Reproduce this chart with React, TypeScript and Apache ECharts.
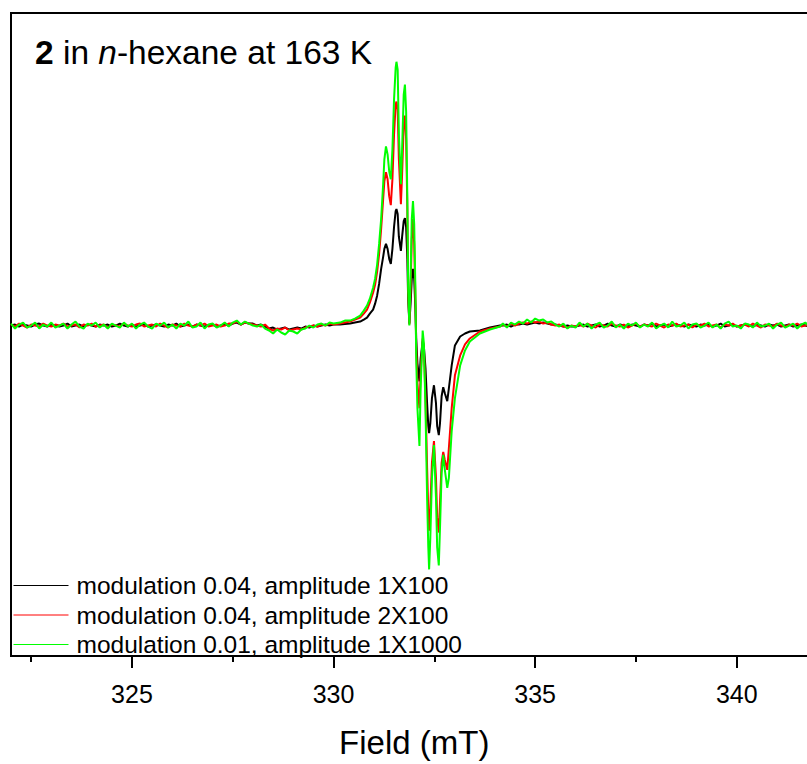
import React, { useEffect, useRef } from "react";
import * as echarts from "echarts";

// Field positions (mT)
const fieldLeft = [
  322.0, 322.1, 322.2, 322.3, 322.4, 322.5, 322.6, 322.7, 322.8, 322.9,
  323.0, 323.1, 323.2, 323.3, 323.4, 323.5, 323.6, 323.7, 323.8, 323.9,
  324.0, 324.1, 324.2, 324.3, 324.4, 324.5, 324.6, 324.7, 324.8, 324.9,
  325.0, 325.1, 325.2, 325.3, 325.4, 325.5, 325.6, 325.7, 325.8, 325.9,
  326.0, 326.1, 326.2, 326.3, 326.4, 326.5, 326.6, 326.7, 326.8, 326.9,
  327.0, 327.1, 327.2, 327.3, 327.4, 327.5, 327.6, 327.7, 327.8, 327.9,
  328.0, 328.1, 328.2, 328.3, 328.4, 328.5, 328.6, 328.7, 328.8, 328.9,
  329.0, 329.1, 329.2, 329.3, 329.4, 329.5, 329.6, 329.7, 329.8, 329.9,
  330.0,
];
const fieldCenter = [
  330.16, 330.28, 330.41, 330.53, 330.66, 330.75, 330.83, 330.9, 330.98, 331.03,
  331.08, 331.13, 331.18, 331.23, 331.26, 331.3, 331.34, 331.38, 331.42, 331.46,
  331.5, 331.54, 331.56, 331.59, 331.62, 331.67, 331.7, 331.74, 331.77, 331.8,
  331.83, 331.85, 331.88, 331.91, 331.94, 331.97, 332.0, 332.03, 332.05, 332.08,
  332.13, 332.16, 332.21, 332.24, 332.28, 332.32, 332.35, 332.37, 332.4, 332.44,
  332.49, 332.54, 332.57, 332.61, 332.64, 332.68, 332.72, 332.76, 332.82, 332.86,
  332.93, 333.01, 333.14, 333.26, 333.38, 333.63, 333.88, 334.13,
];
const fieldRight = [
  334.2, 334.3, 334.4, 334.5, 334.6, 334.7, 334.8, 334.9,
  335.0, 335.1, 335.2, 335.3, 335.4, 335.5, 335.6, 335.7, 335.8, 335.9,
  336.0, 336.1, 336.2, 336.3, 336.4, 336.5, 336.6, 336.7, 336.8, 336.9,
  337.0, 337.1, 337.2, 337.3, 337.4, 337.5, 337.6, 337.7, 337.8, 337.9,
  338.0, 338.1, 338.2, 338.3, 338.4, 338.5, 338.6, 338.7, 338.8, 338.9,
  339.0, 339.1, 339.2, 339.3, 339.4, 339.5, 339.6, 339.7, 339.8, 339.9,
  340.0, 340.1, 340.2, 340.3, 340.4, 340.5, 340.6, 340.7, 340.8, 340.9,
  341.0, 341.1, 341.2, 341.3, 341.4, 341.5, 341.6, 341.7, 341.8,
];

// Signal (arb. units) — modulation 0.04, amplitude 1X100
const blackLeft = [
  0, 1, -1, 1, 0, -1, 1, 2, 0, -1,
  1, 0, -1, 0, 2, -1, 0, 1, -1, 1,
  0, -1, 1, 0, 1, -1, 0, 2, 0, -1,
  1, -1, 0, 1, -1, 0, 1, 0, -1, 1,
  0, 2, -1, 0, 1, -1, 1, 0, -1, 0,
  1, -1, 0, 1, 0, 2, 3, 1, 3, 2,
  2, 0, 1, -1, -3, -2, -4, -3, -2, -4,
  -3, -2, -3, -1, -2, 0, -1, 0, 1, 0,
  1,
];
const blackCenter = [
  1, 1.5, 2, 3, 4, 6, 8, 12, 16, 22,
  30, 42, 57, 69, 77, 82, 77, 67, 62, 77,
  99, 115, 117, 112, 89, 75, 89, 105, 108, 99,
  67, 27, 2, 22, 47, 57, 47, 17, -13, -38,
  -56, -33, -16, -21, -43, -78, -101, -108, -98, -73,
  -60, -78, -101, -110, -98, -71, -62, -68, -76, -63,
  -40, -20, -11, -8, -6, -5, -2, 0,
];
const blackRight = [
  0, 1, -1, 1, 1, 2, 1, 2,
  3, 2, 3, 2, 1, 1, 0, -1, 0, -1,
  -1, 0, 1, -1, 0, 1, -1, 0, 2, 0,
  -1, 1, 0, -1, 1, 0, -1, 1, 0, 2,
  -1, 0, 1, -1, 0, 1, 0, -1, 1, 0,
  -1, 1, 0, 1, -1, 0, 2, -1, 0, 1,
  -1, 0, 1, 0, -1, 1, 0, -1, 1, 0,
  1, -1, 0, 1, -1, 0, 1, 0, -1,
];

// modulation 0.04, amplitude 2X100
const redLeft = [
  1, -1, 2, 0, -2, 1, 0, -1, 2, 0,
  -1, 1, 0, 2, -1, 0, 1, -2, 1, 0,
  2, -1, 0, 1, -2, 1, 0, -1, 2, 0,
  -1, 1, 2, -1, 0, 1, -1, 2, 0, -2,
  1, 0, -1, 2, 0, -1, 1, 0, 2, -1,
  0, 1, -1, 0, 2, 2, 4, 1, 3, 2,
  1, 0, -1, 1, -3, -5, -3, -4, -2, -5,
  -4, -3, -4, -2, -1, 0, -1, 1, 0, 2,
  1,
];
const redCenter = [
  2, 3, 4, 6, 8, 12, 16, 23, 33, 41,
  54, 72, 97, 127, 145, 154, 147, 130, 121, 147,
  192, 222, 225, 217, 167, 122, 152, 202, 211, 187,
  117, 37, 1, 37, 87, 107, 82, 27, -23, -58,
  -83, -48, -13, -23, -73, -143, -188, -206, -183, -138,
  -116, -153, -193, -208, -178, -138, -127, -135, -145, -123,
  -83, -50, -30, -19, -13, -6, -3, -1,
];
const redRight = [
  1, -1, 2, 0, 2, 3, 2, 4,
  3, 4, 2, 3, 1, 0, 1, -1, -2, 0,
  -1, 1, -1, 2, 0, -2, 1, 0, -1, 2,
  0, -1, 1, -2, 0, 2, -1, 1, 0, -1,
  2, 0, -2, 1, 0, 2, -1, 0, 1, -2,
  1, 0, 2, -1, 0, 1, -2, 1, 0, 2,
  -1, 0, 1, -1, 2, 0, -2, 1, 0, -1,
  2, 0, -1, 1, 0, 2, -1, 0, 1,
];

// modulation 0.01, amplitude 1X1000
const greenLeft = [
  2, -3, 1, 3, -2, 0, 3, -3, 1, -1,
  3, -2, 0, 2, -3, 1, 4, -1, -3, 2,
  0, 3, -2, 1, -3, 2, 0, -2, 3, -1,
  2, -3, 1, 3, -1, -3, 2, 0, 3, -2,
  1, -3, 2, 0, 4, -2, -1, 3, -3, 1,
  2, -2, 0, 3, -1, 3, 5, 1, 4, 2,
  0, -1, 1, -3, -5, -8, -4, -7, -9, -5,
  -6, -8, -4, -3, 0, -2, 1, 2, 0, 3,
  2,
];
const greenCenter = [
  3, 5, 5, 7, 10, 15, 20, 27, 38, 47,
  61, 82, 107, 142, 167, 180, 172, 155, 147, 177,
  227, 259, 265, 257, 192, 142, 177, 232, 242, 215,
  127, 37, 0, 47, 107, 125, 102, 37, -33, -83,
  -121, -63, -5, -18, -83, -173, -223, -245, -213, -153,
  -120, -173, -223, -241, -203, -148, -130, -145, -163, -153,
  -106, -73, -40, -25, -16, -8, -4, -1,
];
const greenRight = [
  2, -2, 3, 1, 4, 2, 6, 3,
  7, 5, 6, 3, 4, 1, -1, 2, -3, 0,
  -2, 3, -1, 2, -3, 1, 3, -2, 0, 4,
  -2, 1, -3, 2, 0, 3, -2, 1, -1, 3,
  -3, 0, 2, -2, 4, -1, 0, 3, -3, 1,
  2, -2, 0, 3, -2, 1, -3, 2, 4, -1,
  0, -3, 2, 1, -2, 3, -1, 0, 2, -3,
  1, 3, -2, 0, 2, -3, 1, 3, -1,
];

const majorTicks = [325, 330, 335, 340];
const minorTicks = [322.5, 327.5, 332.5, 337.5];

const seriesNames = [
  "modulation 0.04, amplitude 1X100",
  "modulation 0.04, amplitude 2X100",
  "modulation 0.01, amplitude 1X1000",
];
const seriesColors = ["#000000", "#ff0000", "#00ff00"];

const FONT = "'Liberation Sans', Arial, Helvetica, sans-serif";

export default function App() {
  const ref = useRef<HTMLDivElement>(null);

  useEffect(() => {
    if (!ref.current) return;
    const chart = echarts.init(ref.current, undefined, { renderer: "svg" });
    const field = [...fieldLeft, ...fieldCenter, ...fieldRight];
    const all = [
      [...blackLeft, ...blackCenter, ...blackRight],
      [...redLeft, ...redCenter, ...redRight],
      [...greenLeft, ...greenCenter, ...greenRight],
    ];
    const n = Math.min(field.length, ...all.map((a) => a.length));

    chart.setOption({
      animation: false,
      backgroundColor: "#ffffff",
      grid: {
        show: true,
        left: 11,
        top: 13,
        width: 806.4,
        height: 646,
        borderColor: "#000",
        borderWidth: 2,
        backgroundColor: "transparent",
      },
      xAxis: [
        {
          type: "value",
          min: 322,
          max: 342,
          position: "bottom",
          name: "Field (mT)",
          nameLocation: "middle",
          nameGap: 70,
          nameTextStyle: { fontSize: 33, color: "#000", fontFamily: FONT },
          axisLine: { show: true, onZero: false, lineStyle: { color: "#000", width: 2 } },
          axisTick: {
            show: true,
            inside: false,
            length: 12,
            customValues: majorTicks,
            lineStyle: { color: "#000", width: 2 },
          },
          axisLabel: {
            show: true,
            customValues: majorTicks,
            fontSize: 25,
            color: "#000",
            fontFamily: FONT,
            margin: 25,
          },
          splitLine: { show: false },
        },
        {
          type: "value",
          min: 322,
          max: 342,
          position: "bottom",
          offset: 0,
          axisLine: { show: false, onZero: false },
          axisTick: {
            show: true,
            inside: false,
            length: 6,
            customValues: minorTicks,
            lineStyle: { color: "#000", width: 2 },
          },
          axisLabel: { show: false },
          splitLine: { show: false },
        },
      ],
      yAxis: {
        type: "value",
        min: -332,
        max: 314,
        show: false,
        splitLine: { show: false },
      },
      legend: {
        orient: "vertical",
        left: 13,
        top: 573,
        padding: 0,
        itemWidth: 55,
        itemHeight: 14,
        itemGap: 4.5,
        data: seriesNames,
        lineStyle: { width: 1 },
        itemStyle: { color: "transparent", borderWidth: 0, opacity: 0 },
        textStyle: { fontSize: 24.5, color: "#000", fontFamily: FONT, padding: [0, 0, 0, 3] },
      },
      graphic: [
        {
          type: "text",
          left: 35,
          top: 35,
          style: {
            text: "{b|2} in {i|n}-hexane at 163 K",
            fontSize: 33.5,
            fontFamily: FONT,
            fill: "#000",
            rich: {
              b: { fontWeight: "bold", fontSize: 33.5, fontFamily: FONT, fill: "#000" },
              i: { fontStyle: "italic", fontSize: 33.5, fontFamily: FONT, fill: "#000" },
            },
          },
        },
      ],
      series: seriesNames.map((name, s) => ({
        name,
        type: "line",
        xAxisIndex: 0,
        showSymbol: false,
        symbol: "none",
        smooth: false,
        color: seriesColors[s],
        lineStyle: { color: seriesColors[s], width: 2 },
        data: field.slice(0, n).map((f, i) => [f, all[s][i]]),
      })),
    });
    return () => chart.dispose();
  }, []);

  return (
    <div
      style={{
        position: "fixed",
        left: 0,
        top: 0,
        width: 807,
        height: 764,
        overflow: "hidden",
        background: "#fff",
      }}
    >
      <div ref={ref} style={{ width: 830, height: 764 }} />
    </div>
  );
}
